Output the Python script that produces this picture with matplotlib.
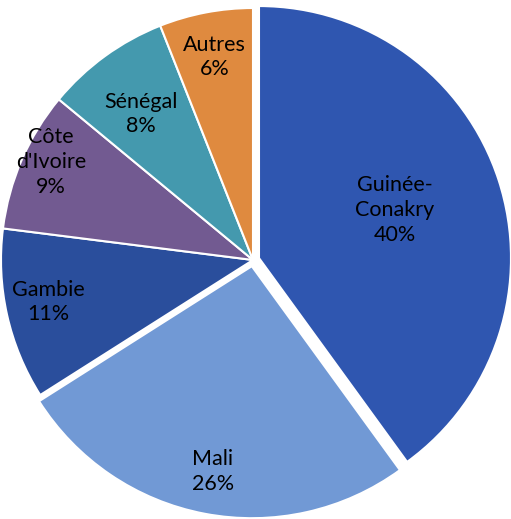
import numpy as np
import matplotlib.pyplot as plt

pays = ["Guinée-\nConakry", "Mali", "Gambie", "Côte\nd'Ivoire", "Sénégal", "Autres"]
parts = [40, 26, 11, 9, 8, 6]
couleurs = ["#2F56B0", "#7199D5", "#2A4E9C", "#725A91", "#4499AE", "#DF8A3F"]
ecart = [0.025, 0.025, 0, 0, 0, 0]
# position des étiquettes : distance au centre et petit décalage d'angle
dist_label = [0.57, 0.83, 0.83, 0.89, 0.73, 0.82]
decal_angle = [1.5, 0, -1, -2.5, 1.5, 0]

fig = plt.figure(figsize=(5.11, 5.19), dpi=100)
ax = fig.add_axes([0, 0, 1, 1])

r = 252.0
cx, cy = 253.0, 260.0
wedges, _ = ax.pie(parts, colors=couleurs, startangle=90, counterclock=False,
                   explode=ecart, radius=1,
                   wedgeprops=dict(edgecolor='white', linewidth=1.5))

for w, nom, p, d, da in zip(wedges, pays, parts, dist_label, decal_angle):
    th = np.deg2rad((w.theta1 + w.theta2) / 2 + da)
    x0, y0 = w.center
    ax.text(x0 + d * np.cos(th), y0 + d * np.sin(th), f"{nom}\n{p}%",
            ha='center', va='center', fontsize=15.5, family='Lato',
            linespacing=1.3, color='black')

ax.set_xlim(-cx / r, (511 - cx) / r)
ax.set_ylim(-(519 - cy) / r, cy / r)
ax.set_aspect('auto')
ax.axis('off')

plt.savefig('out.png', dpi=100)
